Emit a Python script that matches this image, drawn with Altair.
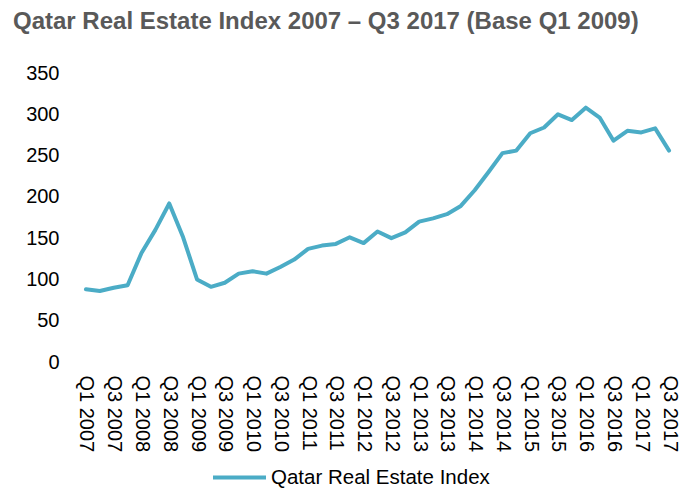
import altair as alt
import pandas as pd

quarters = [f"Q{q} {y}" for y in range(2007, 2018) for q in (1, 2, 3, 4)][:43]
values = [88, 86, 90, 93, 132, 160, 192, 151, 100, 91, 96, 107, 110, 107, 115, 124,
          137, 141, 143, 151, 144, 158, 150, 157, 170, 174, 179, 189, 208, 230, 253,
          256, 277, 284, 300, 293, 308, 296, 268, 280, 278, 283, 256]
series_name = "Qatar Real Estate Index"
label_quarters = [q for q in quarters if q.startswith("Q1") or q.startswith("Q3")]

df = pd.DataFrame({"quarter": quarters, "value": values, "series": series_name})

FONT = "Liberation Sans"

chart = alt.Chart(df).mark_line(strokeWidth=4, strokeJoin="round", strokeCap="round").encode(
    x=alt.X("quarter:O", sort=quarters,
            scale=alt.Scale(type="point", padding=0.5),
            axis=alt.Axis(title=None, values=label_quarters, labelAngle=90,
                          ticks=False, tickSize=0, domain=False, labelPadding=13,
                          labelFont=FONT, labelFontSize=20, labelColor="#000000",
                          labelOverlap=False)),
    y=alt.Y("value:Q", scale=alt.Scale(domain=[0, 350], nice=False),
            axis=alt.Axis(title=None, values=list(range(0, 351, 50)), grid=False,
                          ticks=False, tickSize=0, domain=False, labelPadding=20,
                          labelFont=FONT, labelFontSize=20, labelColor="#000000")),
    color=alt.Color("series:N", scale=alt.Scale(range=["#4BACC6"]),
                    legend=alt.Legend(title=None, orient="none", legendX=132, legendY=376,
                                      symbolType="stroke", symbolSize=2809,
                                      symbolStrokeWidth=4, labelOffset=3, padding=0,
                                      labelLimit=0,
                                      labelFont=FONT, labelFontSize=20.5,
                                      labelColor="#000000")),
).properties(
    width=597, height=289,
    title=alt.TitleParams("Qatar Real Estate Index 2007 – Q3 2017 (Base Q1 2009)",
                          anchor="start", frame="group", dx=-66, offset=29, font=FONT,
                          fontSize=24, fontWeight="bold", color="#595959"),
    autosize=alt.AutoSizeParams(type="none"),
    padding={"left": 71, "top": 65, "right": 15, "bottom": 126},
).configure_view(stroke=None)

chart.save("out.html", embed_options={"renderer": "svg", "actions": False})
